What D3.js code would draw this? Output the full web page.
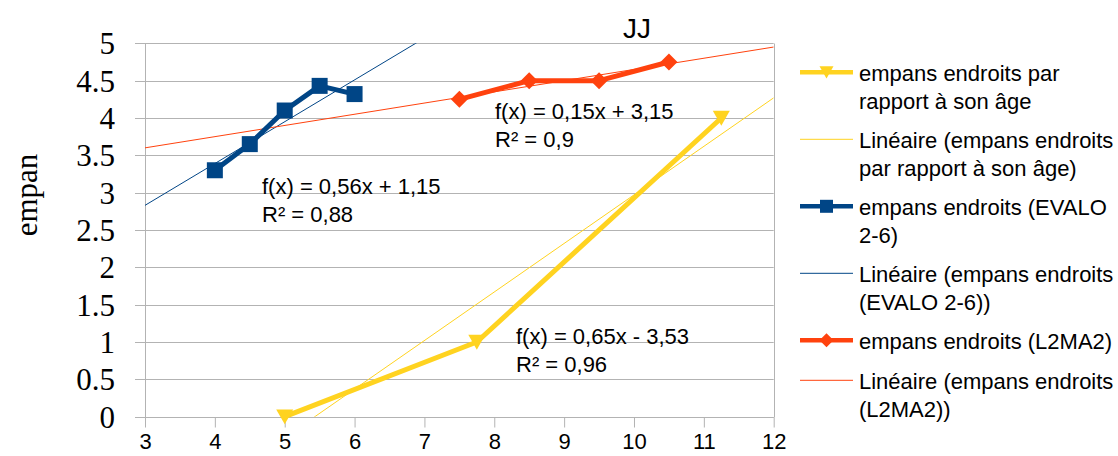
<!DOCTYPE html>
<html>
<head>
<meta charset="utf-8">
<script src="https://cdn.jsdelivr.net/npm/d3@7"></script>
<style>
  html, body { margin: 0; padding: 0; background: #ffffff; }
  svg { display: block; }
</style>
</head>
<body>
<svg id="chart" width="1118" height="456"></svg>
<script>
// ---------- DATA ----------
const chartTitle = "JJ";
const yAxisTitle = "empan";

const xTicks = [3, 4, 5, 6, 7, 8, 9, 10, 11, 12];
const yTicks = [0, 0.5, 1, 1.5, 2, 2.5, 3, 3.5, 4, 4.5, 5];
const yTickLabels = ["0", "0.5", "1", "1.5", "2", "2.5", "3", "3.5", "4", "4.5", "5"];

// Series 1 : empans endroits par rapport à son âge (yellow, triangles)
const ageX = [5, 7.75, 11.25];
const ageY = [0, 1, 4];
// Series 2 : empans endroits (EVALO 2-6) (blue, squares)
const evaloX = [4, 4.5, 5, 5.5, 6];
const evaloY = [3.3, 3.65, 4.1, 4.43, 4.32];
// Series 3 : empans endroits (L2MA2) (orange, diamonds)
const l2maX = [7.5, 8.5, 9.5, 10.5];
const l2maY = [4.25, 4.5, 4.5, 4.75];

// Linear trend coefficients (slope, intercept) as displayed
const trendSlopes = [0.65, 0.56, 0.15];
const trendIntercepts = [-3.53, 1.15, 3.15];
const trendEquations = ["f(x) = 0,65x - 3,53", "f(x) = 0,56x + 1,15", "f(x) = 0,15x + 3,15"];
const trendR2 = ["R² = 0,96", "R² = 0,88", "R² = 0,9"];

const legendLabels = [
  ["empans endroits par", "rapport à son âge"],
  ["Linéaire (empans endroits", "par rapport à son âge)"],
  ["empans endroits (EVALO", "2-6)"],
  ["Linéaire (empans endroits", "(EVALO 2-6))"],
  ["empans endroits (L2MA2)"],
  ["Linéaire (empans endroits", "(L2MA2))"]
];

// ---------- STYLE / LAYOUT ----------
const colors = ["#ffd320", "#004586", "#ff420e"];
const SANS = "'Liberation Sans', Arial, sans-serif";
const SERIF = "'Liberation Serif', 'Times New Roman', serif";
const grid = "#b3b3b3";

const svg = d3.select("#chart");
const x = d3.scaleLinear().domain([3, 12]).range([145, 773.7]);
const y = d3.scaleLinear().domain([0, 5]).range([416.7, 43.3]);

const defs = svg.append("defs");
defs.append("clipPath").attr("id", "plotclip")
  .append("rect")
  .attr("x", x(3)).attr("y", y(5))
  .attr("width", x(12) - x(3)).attr("height", y(0) - y(5));

// Gridlines (horizontal) incl. outward ticks
svg.append("g").selectAll("line").data(yTicks).join("line")
  .attr("x1", x(3) - 10).attr("x2", x(12))
  .attr("y1", d => Math.round(y(d)) + 0.5).attr("y2", d => Math.round(y(d)) + 0.5)
  .attr("stroke", grid).attr("stroke-width", 1);

// Left axis line & right frame
[3, 12].forEach(v => {
  svg.append("line")
    .attr("x1", Math.round(x(v)) + 0.5).attr("x2", Math.round(x(v)) + 0.5)
    .attr("y1", Math.round(y(5)) + 0.5).attr("y2", Math.round(y(0)) + 0.5)
    .attr("stroke", grid).attr("stroke-width", 1);
});

// X axis using d3.axisBottom
const xAxis = d3.axisBottom(x).tickValues(xTicks).tickSize(10).tickPadding(6)
  .tickFormat(d3.format("d"));
const gx = svg.append("g").attr("transform", `translate(0,${Math.round(y(0)) + 0.5})`).call(xAxis);
gx.select(".domain").attr("stroke", grid).attr("d", `M${x(3)},0H${x(12)}`);
gx.selectAll(".tick line").attr("stroke", grid);
gx.selectAll(".tick text").attr("font-family", SANS).attr("font-size", 22).attr("fill", "#000")
  .attr("dy", "0.71em");

// Y axis labels using d3.axisLeft (no lines)
const yAxis = d3.axisLeft(y).tickValues(yTicks).tickSize(0).tickPadding(30)
  .tickFormat((d, i) => yTickLabels[i]);
const gy = svg.append("g").attr("transform", `translate(${x(3)},0)`).call(yAxis);
gy.select(".domain").remove();
gy.selectAll(".tick text").attr("font-family", SERIF).attr("font-size", 31).attr("fill", "#000")
  .attr("dy", "0.34em");

// Y axis title
svg.append("text")
  .attr("transform", "translate(37,195) rotate(-90)")
  .attr("text-anchor", "middle")
  .attr("font-family", SERIF).attr("font-size", 31).attr("fill", "#000")
  .text(yAxisTitle);

// Title
svg.append("text")
  .attr("x", 637).attr("y", 38)
  .attr("text-anchor", "middle")
  .attr("font-family", SANS).attr("font-size", 28).attr("fill", "#000")
  .text(chartTitle);

// Trend lines
const trendG = svg.append("g").attr("clip-path", "url(#plotclip)");
trendSlopes.forEach((m, i) => {
  const b = trendIntercepts[i];
  const pts = [3, 12].map(v => [x(v), y(m * v + b)]);
  trendG.append("path")
    .attr("d", d3.line()(pts))
    .attr("fill", "none").attr("stroke", colors[i]).attr("stroke-width", 1);
});

// Series
const series = [
  { xs: ageX, ys: ageY, color: colors[0], sym: "tri" },
  { xs: evaloX, ys: evaloY, color: colors[1], sym: "sq" },
  { xs: l2maX, ys: l2maY, color: colors[2], sym: "dia" }
];

function markerPath(sym, s) {
  if (sym === "sq") return d3.symbol(d3.symbolSquare, s * s)();
  if (sym === "dia") { const h = s / 2; return `M0,${-h}L${h},0L0,${h}L${-h},0Z`; }
  // downward triangle
  const h = s / 2;
  return `M${-h},${-h * 0.85}L${h},${-h * 0.85}L0,${h * 0.9}Z`;
}

const lineGen = d3.line();
series.forEach(s => {
  const pts = s.xs.map((v, i) => [x(v), y(s.ys[i])]);
  svg.append("path").attr("d", lineGen(pts))
    .attr("fill", "none").attr("stroke", s.color).attr("stroke-width", 5)
    .attr("stroke-linejoin", "round");
  svg.append("g").selectAll("path").data(pts).join("path")
    .attr("transform", d => `translate(${d[0]},${d[1]})`)
    .attr("d", markerPath(s.sym, s.sym === "sq" ? 16 : 17))
    .attr("fill", s.color);
});

// Equation annotations
const annPos = [[516, 344], [262, 194], [495, 119]];
trendEquations.forEach((t, i) => {
  const g = svg.append("text").attr("font-family", SANS).attr("font-size", 22).attr("fill", "#000");
  g.append("tspan").attr("x", annPos[i][0]).attr("y", annPos[i][1]).text(t);
  g.append("tspan").attr("x", annPos[i][0]).attr("y", annPos[i][1] + 28).text(trendR2[i]);
});

// Legend
const legend = svg.append("g");
const legendSyms = [
  { color: colors[0], thick: true, sym: "tri" },
  { color: colors[0], thick: false },
  { color: colors[1], thick: true, sym: "sq" },
  { color: colors[1], thick: false },
  { color: colors[2], thick: true, sym: "dia" },
  { color: colors[2], thick: false }
];
let ly = 72.3;
legendLabels.forEach((lines, i) => {
  const s = legendSyms[i];
  legend.append("line")
    .attr("x1", 800).attr("x2", 853).attr("y1", ly).attr("y2", ly)
    .attr("stroke", s.color).attr("stroke-width", s.thick ? 4.5 : 1);
  if (s.sym) {
    legend.append("path")
      .attr("transform", `translate(826.5,${ly})`)
      .attr("d", markerPath(s.sym, s.sym === "sq" ? 13 : 14))
      .attr("fill", s.color);
  }
  const t = legend.append("text").attr("font-family", SANS).attr("font-size", 22).attr("fill", "#000");
  lines.forEach((l, j) => {
    t.append("tspan").attr("x", 859).attr("y", ly + 8.2 + j * 28).text(l);
  });
  ly += 40 + (lines.length - 1) * 27;
});
</script>
</body>
</html>
